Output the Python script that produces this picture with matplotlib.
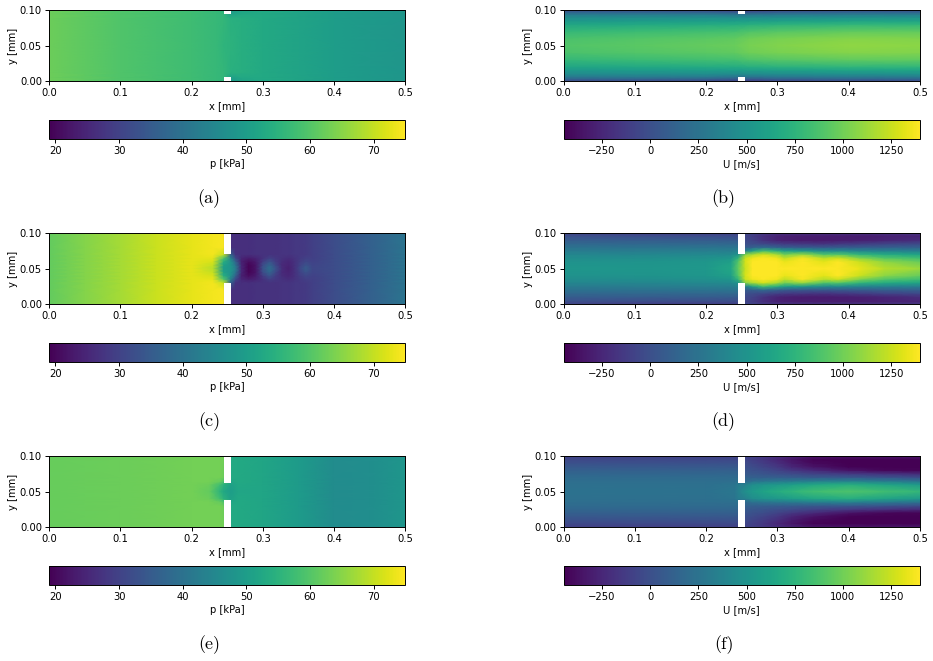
import numpy as np
from matplotlib import pyplot as plt
from matplotlib.patches import Rectangle

# colour ranges of the two quantities
p_range = [19, 75]
u_range = [-450, 1400]
p_ticks = [20, 30, 40, 50, 60, 70]
u_ticks = [-250, 0, 250, 500, 750, 1000, 1250]

# all tables hold the half channel, wall (y=0) to centreline (y=0.05)
# (a) pressure, small wall gap
a_x = [0, .1, .2, .235, .245, .255, .27, .3, .4, .5]
a_y = [0, .005, .012, .05]
a_p = [
    [62.5, 59.5, 57.5, 56.5, 55.5, 49.0, 51.5, 52.6, 50.0, 48.5],
    [62.5, 59.5, 57.5, 56.5, 56.0, 50.5, 52.5, 52.8, 50.0, 48.5],
    [62.5, 59.5, 57.5, 56.5, 56.0, 54.5, 54.0, 52.8, 50.0, 48.5],
    [62.5, 59.5, 57.5, 56.5, 55.5, 55.0, 54.2, 52.8, 50.0, 48.5],
]

# (b) velocity, small wall gap
b_x = [0, .1, .2, .24, .26, .3, .4, .5]
b_y = [0, .003, .006, .01, .015, .02, .03, .04, .05]
b_u = [
    [-50, -50, -60, -90, -120, -80, -50, -50],
    [150, 150, 130, 80, 60, 120, 150, 150],
    [300, 310, 310, 270, 260, 290, 310, 320],
    [440, 450, 460, 440, 440, 450, 470, 480],
    [540, 560, 570, 570, 580, 590, 620, 620],
    [640, 660, 680, 690, 710, 730, 760, 760],
    [780, 810, 840, 850, 880, 910, 950, 950],
    [870, 900, 930, 950, 990, 1020, 1060, 1050],
    [900, 930, 960, 980, 1020, 1050, 1090, 1075],
]

# (c) pressure, wide opening
c_x = [0, .05, .1, .15, .2, .23, .245, .255, .262, .27, .28, .29, .3, .309, .318, .327, .336, .345, .352, .36, .37, .4, .45, .5]
c_y = [0, .02, .03, .035, .04, .045, .05]
c_p = [
    [61.5, 64.5, 67.5, 70.5, 73, 74, 74.5, 26.5, 26.5, 26.5, 26.5, 27, 27, 27, 27, 27.5, 27.5, 28, 28, 28.5, 29.5, 32, 36, 40.5],
    [61.5, 64.5, 67.5, 70.5, 73, 74, 74.5, 26.5, 26.5, 26.5, 26.5, 27, 27, 27, 27, 27.5, 27.5, 28, 28, 28.5, 29.5, 32, 36, 40.5],
    [61.5, 64.5, 67.5, 70.5, 73, 74, 70, 36, 27, 26.5, 26.5, 27, 27, 27, 27, 27.5, 27.5, 28, 28, 28.5, 29.5, 32, 36, 40.5],
    [61.5, 64.5, 67.5, 70.5, 73, 73, 60, 43, 31, 25, 23.5, 24.5, 27, 29.5, 28, 27, 26, 27.5, 28.5, 29.5, 29.7, 32, 36, 40.5],
    [61.5, 64.5, 67.5, 70.5, 73, 71.5, 54, 47, 36, 24, 21, 23, 29, 33.5, 29, 26, 25, 27, 29, 31, 30, 32, 36, 40.5],
    [61.5, 64.5, 67.5, 70.5, 73, 70, 51, 48, 40, 25, 19.5, 22, 32, 37, 31, 25.5, 24.5, 27, 30, 33, 30.5, 32, 36, 40.5],
    [61.5, 64.5, 67.5, 70.5, 73, 69, 50, 48.5, 42, 25, 19.5, 22, 33, 39, 33, 26, 24, 27, 31, 35, 31, 32, 36, 40.5],
]

# (d) velocity, wide opening
d_x = [0, .1, .2, .235, .245, .255, .265, .28, .3, .31, .335, .365, .385, .415, .45, .5]
d_y = [0, .004, .01, .015, .02, .025, .03, .035, .04, .05]
d_u = [
    [-80, -100, -110, -110, -100, -50, -80, -130, -170, -180, -180, -180, -180, -180, -170, -150],
    [0, -10, -20, -20, -30, -60, -120, -200, -270, -290, -300, -300, -300, -300, -280, -250],
    [90, 90, 90, 80, 70, -40, -80, -180, -270, -290, -310, -310, -300, -290, -260, -210],
    [170, 170, 170, 170, 170, 0, -20, -50, -100, -130, -150, -170, -150, -120, -80, -40],
    [250, 250, 260, 260, 270, 80, 120, 180, 120, 80, 60, 50, 70, 80, 100, 120],
    [320, 330, 340, 340, 360, 350, 600, 850, 720, 600, 560, 440, 450, 400, 380, 350],
    [400, 400, 420, 430, 500, 1050, 1150, 1270, 1150, 1000, 1100, 880, 900, 760, 680, 620],
    [450, 460, 480, 520, 760, 1250, 1350, 1400, 1350, 1220, 1380, 1200, 1260, 1050, 900, 830],
    [490, 500, 520, 590, 900, 1280, 1400, 1400, 1400, 1340, 1400, 1320, 1400, 1250, 1080, 960],
    [520, 520, 540, 650, 950, 1250, 1400, 1400, 1400, 1400, 1400, 1400, 1400, 1340, 1200, 1120],
]

# (e) pressure, narrow opening
e_x = [0, .1, .2, .225, .24, .245, .255, .265, .3, .35, .4, .45, .5]
e_y = [0, .03, .036, .04, .05]
e_p = [
    [62, 62.5, 63, 63, 63, 63, 53, 52.8, 52, 49.5, 46, 46.5, 48.5],
    [62, 62.5, 63, 63, 63, 62.5, 53, 52.8, 52, 49.5, 46, 46.5, 48.5],
    [62, 62.5, 63, 63, 61.5, 59, 52, 52.8, 52, 49.5, 46, 46.5, 48.5],
    [62, 62.5, 63, 62.5, 58, 55, 51, 52.5, 52, 49.5, 46, 46.5, 48.5],
    [62, 62.5, 63, 61.5, 55, 52.5, 50, 52, 52, 49.5, 46, 46.5, 48.5],
]

# (f) velocity, narrow opening
f_x = [0, .1, .2, .24, .245, .255, .265, .28, .3, .32, .35, .4, .45, .5]
f_y = [0, .005, .01, .015, .02, .025, .03, .035, .04, .05]
f_u = [
    [-100, -100, -100, -100, -100, -80, -100, -150, -200, -260, -330, -350, -330, -320],
    [-40, -40, -40, -40, -50, -60, -100, -160, -250, -340, -430, -450, -450, -450],
    [10, 10, 10, 10, 0, -30, -70, -120, -200, -300, -400, -450, -450, -450],
    [60, 60, 60, 60, 50, 0, -30, -80, -150, -250, -350, -440, -450, -450],
    [110, 110, 110, 110, 100, 30, 10, -20, -80, -150, -230, -350, -420, -430],
    [150, 150, 150, 150, 140, 70, 50, 40, 0, -30, -80, -130, -180, -220],
    [190, 190, 190, 190, 180, 130, 110, 110, 100, 90, 70, 60, 30, -20],
    [210, 210, 210, 220, 240, 160, 230, 260, 280, 300, 330, 350, 300, 230],
    [225, 225, 225, 260, 320, 350, 450, 500, 530, 570, 640, 700, 620, 540],
    [240, 240, 240, 280, 350, 480, 550, 620, 700, 750, 830, 880, 830, 780],
]

# wall plate: streamwise extent and height of each half per row
wall_x = [.245, .255]
wall_h = [.005, .03, .0375]

W, H = 933, 661
plt.rcParams['font.size'] = 7.2
plt.rcParams['axes.linewidth'] = 0.7

fig = plt.figure(figsize=(W / 100, H / 100), dpi=100)


# pixel box to figure fraction
def box(left, top, right, bottom):
    return [left / W, 1 - bottom / H, (right - left) / W, (bottom - top) / H]


def draw_panel(left, top, xs, ys, half, vrange, ticks, label, wall, tag):
    ax = fig.add_axes(box(left, top, left + 356.5, top + 71))
    half = np.array(half, dtype=float)
    ys = np.array(ys)
    # mirror the half channel about the centreline
    y_full = np.concatenate([ys, 0.1 - ys[-2::-1]])
    z_full = np.vstack([half, half[-2::-1]])
    mesh = ax.pcolormesh(xs, y_full, z_full, shading='gouraud', cmap='viridis',
                         vmin=vrange[0], vmax=vrange[1])
    ax.add_patch(Rectangle((wall_x[0], 0), wall_x[1] - wall_x[0], wall, color='white', lw=0))
    ax.add_patch(Rectangle((wall_x[0], 0.1 - wall), wall_x[1] - wall_x[0], wall, color='white', lw=0))
    ax.set_xlim(0, 0.5)
    ax.set_ylim(0, 0.1)
    ax.set_xticks([0, .1, .2, .3, .4, .5])
    ax.set_yticks([0, .05, .1])
    ax.yaxis.set_major_formatter('{x:.2f}')
    ax.xaxis.set_major_formatter('{x:.1f}')
    ax.tick_params(length=2.6, width=0.7, pad=2.5)
    ax.set_xlabel('x [mm]', labelpad=2)
    ax.set_ylabel('y [mm]', labelpad=1)

    cax = fig.add_axes(box(left, top + 110, left + 356.5, top + 129))
    cbar = fig.colorbar(mesh, cax=cax, orientation='horizontal')
    cbar.set_ticks(ticks)
    cbar.ax.tick_params(length=2.6, width=0.7, pad=2.5)
    cbar.set_label(label, labelpad=2)

    fig.text((left + 160) / W, 1 - (top + 189) / H, tag, family='cmr10', fontsize=13,
             ha='center', va='center')


draw_panel(49, 10, a_x, a_y, a_p, p_range, p_ticks, 'p [kPa]', wall_h[0], '(a)')
draw_panel(563.5, 10, b_x, b_y, b_u, u_range, u_ticks, 'U [m/s]', wall_h[0], '(b)')
draw_panel(49, 233, c_x, c_y, c_p, p_range, p_ticks, 'p [kPa]', wall_h[1], '(c)')
draw_panel(563.5, 233, d_x, d_y, d_u, u_range, u_ticks, 'U [m/s]', wall_h[1], '(d)')
draw_panel(49, 456, e_x, e_y, e_p, p_range, p_ticks, 'p [kPa]', wall_h[2], '(e)')
draw_panel(563.5, 456, f_x, f_y, f_u, u_range, u_ticks, 'U [m/s]', wall_h[2], '(f)')

fig.savefig('out.png', dpi=100)
